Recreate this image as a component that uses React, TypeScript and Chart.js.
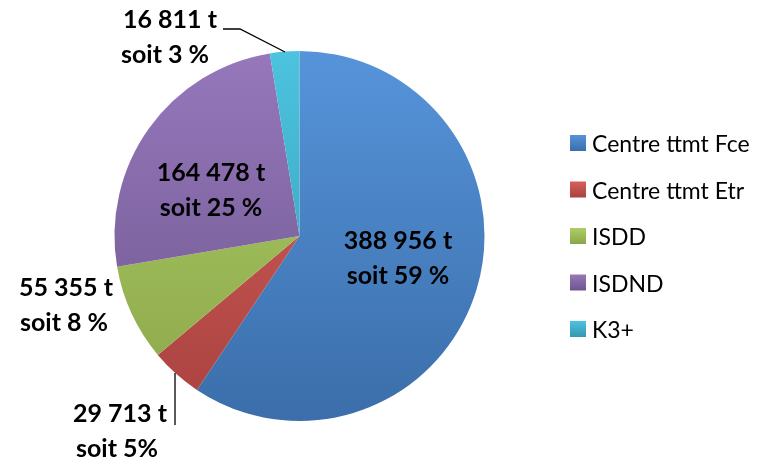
import React, { useEffect, useRef } from "react";
import { Chart, registerables } from "chart.js";

Chart.register(...registerables);

const categories = ["Centre ttmt Fce", "Centre ttmt Etr", "ISDD", "ISDND", "K3+"];
const tonnages = [388956, 29713, 55355, 164478, 16811];
const labelLines1 = ["388 956 t", "29 713 t", "55 355 t", "164 478 t", "16 811 t"];
const labelLines2 = ["soit 59 %", "soit 5%", "soit 8 %", "soit 25 %", "soit 3 %"];
const colorsTop = ["#5694da", "#d5605b", "#aecd66", "#9678bb", "#4cc3df"];
const colorsBottom = ["#3b6eaa", "#a9423f", "#8ba64a", "#6d558e", "#3598b0"];
const legendColors = ["#4a7ebb", "#c0504d", "#9bbb59", "#8064a2", "#4bacc6"];

// label anchor positions (text centre) for each slice
const labelPos: [number, number][] = [
  [398, 241],
  [120, 414],
  [66, 288],
  [211, 173],
  [170, 20],
];

export default function App() {
  const ref = useRef<HTMLCanvasElement | null>(null);
  useEffect(() => {
    const canvas = ref.current!;
    const labelsPlugin = {
      id: "customLabels",
      afterDraw(chart: any) {
        const ctx = chart.ctx;
        ctx.save();
        ctx.fillStyle = "#000";
        ctx.textBaseline = "middle";
        ctx.textAlign = "center";
        ctx.font = "bold 25px Lato, 'Open Sans', sans-serif";
        labelPos.forEach((p, i) => {
          ctx.fillText(labelLines1[i], p[0], p[1]);
          ctx.fillText(labelLines2[i], p[0] - (i === 2 ? 2 : 0) - (i === 1 ? 3 : 0) - (i === 4 ? 5 : 0), p[1] + 35);
        });
        // leader lines
        ctx.strokeStyle = "#000";
        ctx.lineWidth = 1.3;
        ctx.beginPath();
        ctx.moveTo(223, 29);
        ctx.lineTo(240, 29);
        ctx.lineTo(285, 52);
        ctx.stroke();
        ctx.beginPath();
        ctx.moveTo(175, 373);
        ctx.lineTo(175, 425);
        ctx.stroke();
        // legend
        ctx.textAlign = "left";
        ctx.font = "23px Lato, 'Open Sans', sans-serif";
        categories.forEach((c, i) => {
          const y = 135 + i * 46.5;
          const g = ctx.createLinearGradient(0, y, 0, y + 16);
          g.addColorStop(0, colorsTop[i]);
          g.addColorStop(1, colorsBottom[i]);
          ctx.fillStyle = g;
          ctx.fillRect(570, y, 16, 16);
          ctx.fillStyle = "#000";
          ctx.fillText(c, 592, y + 10);
        });
        ctx.restore();
      },
    };
    const chart = new Chart(canvas, {
      type: "pie",
      data: {
        labels: categories,
        datasets: [
          {
            data: tonnages,
            borderWidth: 0,
            backgroundColor: (ctx: any) => {
              const i = ctx.dataIndex;
              const area = ctx.chart.chartArea;
              if (!area) return legendColors[i];
              const g = ctx.chart.ctx.createLinearGradient(0, area.top, 0, area.bottom);
              g.addColorStop(0, colorsTop[i]);
              g.addColorStop(1, colorsBottom[i]);
              return g;
            },
          },
        ],
      },
      options: {
        animation: false,
        responsive: false,
        layout: { padding: { top: 51, bottom: 43, left: 114, right: 286 } },
        plugins: { legend: { display: false }, tooltip: { enabled: false } },
      },
      plugins: [labelsPlugin],
    });
    return () => chart.destroy();
  }, []);
  return (
    <div style={{ position: "fixed", left: 0, top: 0, width: 771, height: 464, background: "#fff" }}>
      <canvas ref={ref} width={771} height={464} />
    </div>
  );
}
